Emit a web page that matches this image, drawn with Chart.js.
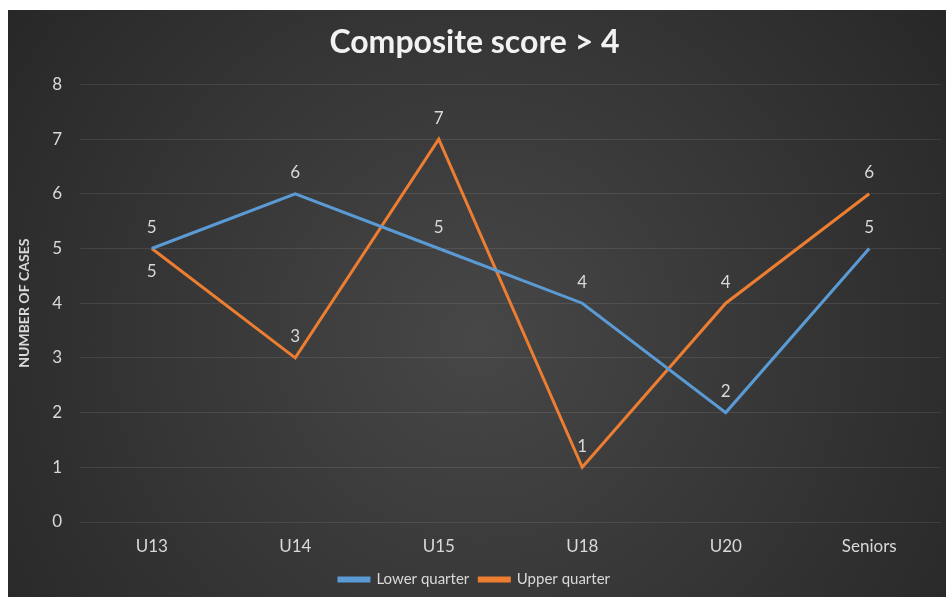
<!DOCTYPE html>
<html>
<head>
<meta charset="utf-8">
<script src="https://cdn.jsdelivr.net/npm/chart.js@4/dist/chart.umd.min.js"></script>
<style>
    html, body { margin: 0; padding: 0; background: #ffffff; }
    #wrap { position: absolute; left: 8px; top: 10px; width: 938px; height: 587px; }
</style>
</head>
<body>
<div id="wrap"><canvas id="compositeChart"></canvas></div>
<script>
const ageGroups = ['U13', 'U14', 'U15', 'U18', 'U20', 'Seniors'];
const lowerQuarter = [5, 6, 5, 4, 2, 5];
const upperQuarter = [5, 3, 7, 1, 4, 6];
const yTicks = [0, 1, 2, 3, 4, 5, 6, 7, 8];

const textColor = '#d9d9d9';

// dark radial backdrop like the office chart style
const backdropPlugin = {
    id: 'backdrop',
    beforeDraw(chart) {
        const ctx = chart.ctx;
        const w = chart.width, h = chart.height;
        const g = ctx.createRadialGradient(w * 0.5, h * 0.56, 0, w * 0.5, h * 0.56, w * 0.62);
        g.addColorStop(0, '#474747');
        g.addColorStop(1, '#272727');
        ctx.save();
        ctx.fillStyle = g;
        ctx.fillRect(0, 0, w, h);
        ctx.restore();
    }
};

// value labels next to each point
const valueLabelPlugin = {
    id: 'valueLabels',
    afterDatasetsDraw(chart, args, opts) {
        const ctx = chart.ctx;
        ctx.save();
        ctx.font = '17px Lato';
        ctx.fillStyle = textColor;
        ctx.textAlign = 'center';
        ctx.textBaseline = 'middle';
        chart.data.datasets.forEach((ds, di) => {
            chart.getDatasetMeta(di).data.forEach((pt, i) => {
                const below = (opts.below || []).some(b => b[0] === di && b[1] === i);
                ctx.fillText(ds.data[i], pt.x, below ? pt.y + 23 : pt.y - 21);
            });
        });
        ctx.restore();
    }
};

Chart.defaults.font.family = 'Lato';
Chart.defaults.color = textColor;

new Chart(document.getElementById('compositeChart'), {
    type: 'line',
    data: {
        labels: ageGroups,
        datasets: [
            {
                label: 'Lower quarter',
                data: lowerQuarter,
                borderColor: '#5b9bd5',
                backgroundColor: '#5b9bd5',
                borderWidth: 3,
                pointRadius: 0,
                tension: 0
            },
            {
                label: 'Upper quarter',
                data: upperQuarter,
                borderColor: '#ed7d31',
                backgroundColor: '#ed7d31',
                borderWidth: 3,
                pointRadius: 0,
                tension: 0
            }
        ]
    },
    options: {
        responsive: true,
        maintainAspectRatio: false,
        animation: false,
        layout: { padding: { left: 0, right: 5, top: 0, bottom: 0 } },
        plugins: {
            title: {
                display: true,
                text: 'Composite score > 4',
                color: '#f2f2f2',
                font: { size: 32, weight: 'bold' },
                padding: { top: 13, bottom: 23 }
            },
            legend: {
                position: 'bottom',
                labels: {
                    color: textColor,
                    font: { size: 15 },
                    boxWidth: 30,
                    boxHeight: 3,
                    padding: 10
                }
            },
            tooltip: { enabled: false },
            valueLabels: { below: [[1, 0]] }
        },
        scales: {
            x: {
                offset: true,
                grid: { display: false, drawTicks: false },
                border: { display: false },
                ticks: {
                    color: textColor,
                    font: { size: 17 },
                    padding: 14
                },
                afterFit(scale) { scale.height = 40; }
            },
            y: {
                min: 0,
                max: 8,
                afterBuildTicks(scale) { scale.ticks = yTicks.map(v => ({ value: v })); },
                grid: { color: 'rgba(255, 255, 255, 0.09)', drawTicks: false },
                border: { display: false },
                ticks: {
                    color: textColor,
                    font: { size: 17 },
                    padding: 18
                },
                title: {
                    display: true,
                    text: 'NUMBER OF CASES',
                    color: textColor,
                    font: { size: 14, weight: 'bold' },
                    padding: { top: 8, bottom: 0 }
                },
                afterFit(scale) { scale.width = 72; }
            }
        }
    },
    plugins: [backdropPlugin, valueLabelPlugin]
});
</script>
</body>
</html>
